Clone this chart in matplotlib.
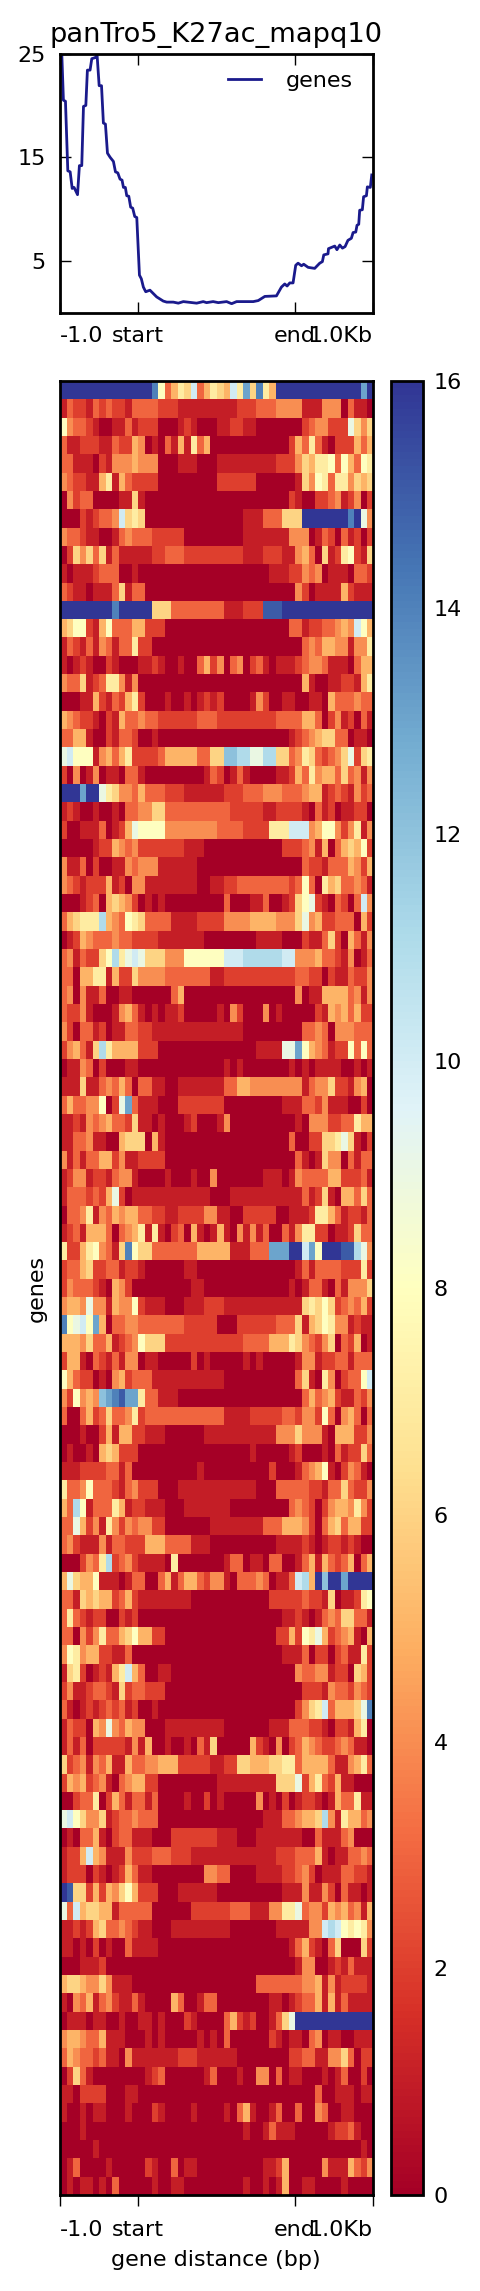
import matplotlib
matplotlib.use('Agg')
from matplotlib import pyplot as plt
import numpy as np

# profile curve, bin number and mean signal
profile_bins = [1, 1.5, 2.5, 3.8, 5.3, 6.8, 8.1, 9.3, 11.5, 12.7, 14.2, 15.3, 16.8, 17.8, 19.5, 20.6, 22.7, 24,
                25.3, 26.8, 28, 29.3, 30.6, 32.3, 34.4, 35.7, 37.2, 38.6, 39.9, 40.8, 42, 42.9, 44.2, 45.4,
                46.7, 48, 49.3, 51, 52.2, 53.5, 55, 57.7, 62, 66.2, 68.4, 72.6, 75.8, 79, 87.5, 91.7, 93.8,
                98, 101.3, 106.6, 109.8, 113, 123.6, 126.8, 131, 138.4, 141.6, 143.7, 145.2, 146.9, 149,
                150.7, 152.2, 154.4, 155.8, 158.6, 162.8, 166, 167.7, 168.6, 171.3, 171.6, 175.6, 177, 178.8,
                180.5, 182.2, 184, 186.2, 187.3, 189, 189.8, 190.9, 191.5, 193.2, 194, 195.8, 196.4, 198.3, 199.2]
profile_vals = [26, 24.8, 20.5, 20.4, 13.7, 13.6, 12.0, 12.1, 11.4, 14.2, 14.2, 19.9, 20.0, 23.4, 23.4, 24.5, 24.6, 24.8,
                21.9, 21.9, 18.3, 18.2, 15.4, 15.0, 14.6, 13.6, 13.5, 12.9, 12.8, 12.1, 12.1, 11.3, 11.25, 10.2,
                10.1, 9.3, 9.2, 3.65, 3.3, 2.5, 2.05, 2.2, 1.55, 1.15, 1.05, 1.05, 0.95, 1.1, 0.95, 1.1, 1.0,
                1.1, 1.0, 1.1, 0.9, 1.1, 1.1, 1.2, 1.6, 1.65, 2.5, 2.8, 2.6, 2.9, 2.9,
                4.6, 4.8, 4.55, 4.7, 4.4, 4.3, 4.8, 4.95, 5.6, 5.7, 6.2, 6.45, 6.1, 6.55,
                6.25, 6.4, 7.0, 7.2, 7.75, 7.8, 8.45, 8.55, 9.9, 9.95, 11.2, 11.3, 12.15, 12.1, 13.3]

tick_bins = [0, 50, 150, 200]
tick_labels = ['-1.0', 'start', 'end', '1.0Kb']
profile_yticks = [5, 15, 25]
cbar_ticks = [0, 2, 4, 6, 8, 10, 12, 14, 16]

# heatmap, one string per gene, one character per column (base 17: 0-9, a-g)
heat_rows = [
    "gggggggg gggggge8 3576a357 65a7d6e7 5ggggggg ggggggdg",
    "13221323 22133332 22111111 11122233 34444111 44403110",
    "84332100 11312220 00121000 11221100 00000234 42229646",
    "31122211 32254010 31517350 00000000 00025373 10222535",
    "33111021 44454440 00111000 11111111 12224657 78385387",
    "43221157 15322220 00000000 22222200 00001648 73774656",
    "04233000 01161000 00000000 00000000 00021002 23412402",
    "00021233 4a676000 00000000 00001113 33666ggg ggggeg94",
    "43321100 13433322 22200000 00001111 11144401 32031202",
    "02646361 31111122 33322222 22221112 22114530 61278216",
    "10111233 30010000 00000000 00000000 11122434 01110332",
    "32110111 36133000 00000000 00000000 00004201 11152111",
    "gggggggg eggggg66 63333333 3111222f ffgggggg gggggggg",
    "56882158 33355222 00000000 00000000 00033122 33454a85",
    "13213143 13372200 00000000 00000000 00000343 55441447",
    "10121002 10001121 00100352 40340231 01112344 31110355",
    "43361237 74140000 00000000 00000000 00000510 01122157",
    "00011521 32572000 10010121 20000142 00110011 05333433",
    "54322102 15334332 22222333 22222222 23333553 02412031",
    "33551002 13320010 00000000 00000000 00012345 66330110",
    "9a888145 35722223 55555336 6ccbb99b b6634763 23469267",
    "20401401 10331000 00000013 20131000 01125374 55363414",
    "gggdgg97 64435333 22211111 12223334 44333455 12321423",
    "12100100 10334466 33333333 33222221 12222103 12011220",
    "20011130 12598888 44444444 33332222 777aaa45 88424714",
    "00000122 54342222 22211100 00000000 00222341 50356582",
    "41130200 11434441 11111000 00000000 00000322 13335425",
    "43212225 12044111 11111001 12233333 33323830 75633431",
    "00012305 65420101 00000000 03000113 00126892 103203a4",
    "356777b5 43876333 31111222 24444555 54446945 22333052",
    "01254333 43322221 11111100 00000011 11000211 36205314",
    "34132268 b79a9666 44488888 8aaabbbb bbaa4445 33214013",
    "33055771 52264444 33333331 12222222 22223322 02113224",
    "34041130 01100000 03500000 00000000 00004011 55553414",
    "32241000 14531010 11200000 10420004 01000002 15453522",
    "42033120 11332211 11111111 11110000 00000334 30444333",
    "245316b7 55552220 00000000 00000011 1199d854 31228383",
    "01143020 00110000 00000000 01010000 00010101 11100101",
    "11161134 35303311 00111111 13355444 44444134 46221450",
    "35334480 29d31110 00222222 20000000 00111332 41110020",
    "11214345 33261101 00012000 14000000 00001044 42233755",
    "11334110 05666051 00000000 00000000 00030022 66796102",
    "41313355 24112222 00000000 00000000 00003101 64403133",
    "12441221 34410000 10001004 00000001 11014333 35522231",
    "13332325 92011111 11111110 00111111 11111312 61055363",
    "03347143 54553322 11222244 11002222 20011127 75312213",
    "12315553 03457171 02305101 51041413 00314772 20112633",
    "72257843 16e86633 33333555 55111333 dddggad8 gggffb94",
    "23356223 31221000 00011000 00000000 00001313 33322272",
    "24333210 54200000 00001100 00000000 00010133 10314446",
    "45549441 54482111 00011122 21111111 11111676 86234352",
    "e89a8d50 33443333 33322222 00022222 23336156 87441211",
    "55546335 12348666 22222222 22223333 55576432 46032501",
    "25510321 31440110 00002010 00001010 00001441 22331333",
    "85322010 45233311 11111111 10000000 00003610 7402338a",
    "428454cd efdd7331 11000000 00000000 00000353 45211324",
    "30035236 33472333 33333333 31111222 22332442 83045303",
    "00010025 15522111 00000011 11111111 14446444 10555224",
    "01001056 52220000 00000000 00000100 00012000 10312263",
    "11122223 31300000 00000100 00000000 20001345 81024310",
    "73348333 21342220 00111111 11111100 03333322 13363224",
    "53b81333 75122111 00011111 11000000 00034320 24554742",
    "33952417 42434422 00000001 11111113 33555420 35635522",
    "34211141 33222555 33331110 00000000 01111210 12212100",
    "0002437b 23421111 07000000 01330110 33001351 53235035",
    "59655811 10133003 51355324 41033343 0113ab5g cggdgggg",
    "33165655 23521111 11110000 00000000 22222322 16011278",
    "37321220 02120000 00000000 00000000 00112101 34366331",
    "33042473 35685522 00000000 00000000 02252879 52345105",
    "48745522 11300000 00000000 00000000 00111302 20231172",
    "16720121 57a53001 10000000 00000000 00004334 41220652",
    "24112332 16233222 00000000 00000000 00000222 14332432",
    "31012123 23120010 00000000 00000000 00002467 a355569e",
    "13220549 43544000 11111111 10000000 11133322 10221570",
    "13130222 22141500 10010316 00000521 04023543 22343110",
    "62341435 11533445 55222221 12266555 66773555 53114573",
    "25452341 03455220 00000000 11111111 16669257 32511000",
    "00233702 53133130 00010020 10000040 10201221 01533711",
    "9a864461 23343330 00000000 00000001 11334556 b4175534",
    "01033510 23311100 02222222 11100011 11111003 11134000",
    "1225a541 11422233 32221111 11111111 12223335 10113343",
    "12220210 12531100 00000044 33000011 11223420 11133221",
    "gf662525 46852220 00111111 00000000 00111411 42031101",
    "93a56655 13333300 00002222 22333111 44779344 25453415",
    "11212563 34321100 01111111 11000000 01111144 aba87874",
    "11010201 00311110 00000000 00000000 00013521 03600062",
    "00011120 00000000 00000000 00000000 00001440 01213111",
    "56654464 11100000 00000000 00000033 33333445 14122221",
    "10435134 21131000 05300133 00000000 11012335 15131111",
    "01110110 01001101 00021000 03521200 1369gggg gggggggg",
    "45543351 11000101 00000101 03000000 21011034 01100111",
    "35433231 10411111 11222111 11100000 00022331 14463022",
    "02631000 00000123 00000013 00010044 03011000 10130020",
    "11022220 00110000 00000000 00000000 00000003 00111011",
    "10010110 00100021 00001000 01035100 13003004 30011000",
    "00010000 00000000 00000000 00001001 31110000 01223100",
    "00000100 00000000 00000000 00000000 00000000 00000010",
    "01300001 00000210 03011000 00000001 12500000 41115324",
    "01011010 30000010 01100000 00001001 01500110 00010000",
]

W, H = 480.0, 2291.0


def box(left, top, right, bottom):
    # pixel box to figure fractions
    return [left / W, 1 - bottom / H, (right - left) / W, (bottom - top) / H]


# decode the strings
digits = '0123456789abcdefg'
matrix = np.array([[digits.index(c) for c in row.replace(' ', '')] for row in heat_rows], dtype=float)

plt.rcParams['font.family'] = 'DejaVu Sans'
plt.rcParams['axes.linewidth'] = 1.0

fig = plt.figure(figsize=(W / 200, H / 200), dpi=200)

# profile
ax1 = fig.add_axes(box(59.5, 53.5, 373, 312.5))
ax1.plot(profile_bins, profile_vals, color='#1a1a8c', lw=1.0, label='genes')
ax1.set_xlim(0, 200)
ax1.set_ylim(0.05, 25)
ax1.set_yticks(profile_yticks)
ax1.set_xticks(tick_bins)
ax1.set_xticklabels(tick_labels)
ax1.tick_params(direction='in', length=4, width=0.5, top=True, right=True, labelsize=8, pad=5)
ax1.set_title('panTro5_K27ac_mapq10', fontsize=9.8, pad=4)
ax1.legend(frameon=False, fontsize=8, loc='center right', bbox_to_anchor=(0.936, 0.894),
           borderaxespad=0, borderpad=0, handlelength=1.5, handletextpad=1.1)

# heatmap
ax2 = fig.add_axes(box(59.5, 381, 373, 2195))
im = ax2.imshow(matrix, aspect='auto', interpolation='nearest', cmap='RdYlBu',
                vmin=0, vmax=16, extent=(0, 200, len(matrix), 0))
ax2.set_yticks([])
ax2.set_xticks(tick_bins)
ax2.set_xticklabels(tick_labels)
ax2.tick_params(axis='x', direction='out', length=4, width=0.5, labelsize=8, pad=5)
ax2.set_xlabel('gene distance (bp)', fontsize=8, labelpad=3.5)
ax2.set_ylabel('genes', fontsize=8, labelpad=4.5)

for ax in (ax1, ax2):
    labels = ax.get_xticklabels()
    labels[0].set_ha('left')
    labels[-1].set_ha('right')

# colorbar
cax = fig.add_axes(box(391, 381, 422.5, 2195))
cbar = fig.colorbar(im, cax=cax)
cbar.set_ticks(cbar_ticks)
cbar.ax.tick_params(length=0, labelsize=8, pad=4)
cbar.outline.set_linewidth(1.0)

fig.savefig('out.png', dpi=200)
